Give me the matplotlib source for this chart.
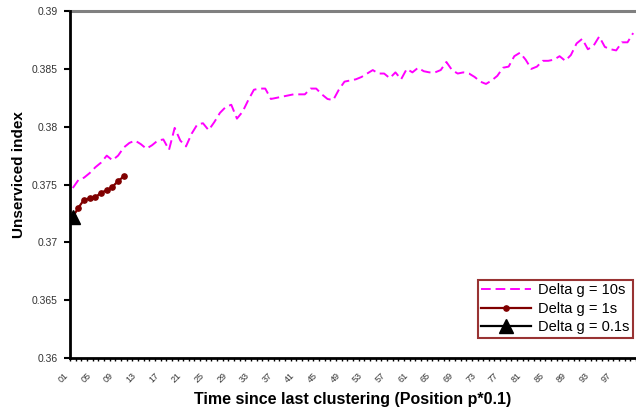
#!/usr/bin/python3
import matplotlib
matplotlib.use('Agg')
import matplotlib.pyplot as plt
from matplotlib.transforms import ScaledTranslation
import numpy as np

# unserviced index per position (p*0.1), one series per delta g
pos_10s = list(range(1, 101))
val_10s = [
    0.3747, 0.3754, 0.3756, 0.3760, 0.3765, 0.3769, 0.3775, 0.3771, 0.3775, 0.3782,
    0.3786, 0.3788, 0.3785, 0.3781, 0.3784, 0.3788, 0.3789, 0.3780, 0.3799, 0.3788,
    0.3783, 0.3794, 0.3802, 0.3803, 0.3797, 0.3804, 0.3812, 0.3817, 0.3819, 0.3807,
    0.3813, 0.3823, 0.3832, 0.3833, 0.3833, 0.3824, 0.3825, 0.3826, 0.3827, 0.3828,
    0.3828, 0.3828, 0.3833, 0.3833, 0.3828, 0.3824, 0.3823, 0.3832, 0.3839, 0.3840,
    0.3841, 0.3843, 0.3846, 0.3849, 0.3846, 0.3846, 0.3842, 0.3847, 0.3841, 0.3850,
    0.3847, 0.3851, 0.3848, 0.3847, 0.3847, 0.3849, 0.3856, 0.3849, 0.3846, 0.3847,
    0.3846, 0.3843, 0.3839, 0.3837, 0.3840, 0.3844, 0.3851, 0.3852, 0.3861, 0.3864,
    0.3858, 0.3850, 0.3852, 0.3857, 0.3857, 0.3858, 0.3861, 0.3857, 0.3862, 0.3872,
    0.3876, 0.3867, 0.3870, 0.3878, 0.3869, 0.3867, 0.3866, 0.3873, 0.3873, 0.3881,
]
pos_1s = list(range(1, 11))
val_1s = [0.3722, 0.3730, 0.3737, 0.3738, 0.3739, 0.3743, 0.3745, 0.3748, 0.3753, 0.3757]
pos_01s = [1]
val_01s = [0.3722]

xtick_pos = list(range(1, 101, 4))
xtick_labels = ['%02d' % p for p in xtick_pos]
yticks = [0.36, 0.365, 0.37, 0.375, 0.38, 0.385, 0.39]
ytick_labels = ['0.36', '0.365', '0.37', '0.375', '0.38', '0.385', '0.39']

plt.rcParams['font.family'] = ['Liberation Sans', 'DejaVu Sans']

fig = plt.figure(figsize=(6.36, 4.11), dpi=100)
ax = fig.add_axes([0.110, 0.129, 0.890, 0.844])

ax.plot(pos_10s, val_10s, color='#ff00ff', lw=1.4, dashes=(5, 2.5),
        label='Delta g = 10s', zorder=3)
ax.plot(pos_1s, val_1s, color='#800000', lw=1.6, marker='o', ms=3.8,
        label='Delta g = 1s', zorder=4)
ax.plot(pos_01s, val_01s, color='black', lw=1.6, marker='^', ms=10,
        label='Delta g = 0.1s', zorder=5)

ax.set_xlim(0.5, 100.5)
ax.set_ylim(0.36, 0.39)

# only the top gridline shows, in grey
ax.axhline(0.39, color='#808080', lw=2.2, zorder=2, clip_on=False)

for side in ['top', 'right']:
    ax.spines[side].set_visible(False)
for side in ['left', 'bottom']:
    ax.spines[side].set_linewidth(2)
    ax.spines[side].set_color('black')

ax.set_yticks(yticks)
ax.set_yticklabels(ytick_labels, fontsize=7.5, color='#333333')
ax.tick_params(axis='y', direction='out', length=4, width=1.5, pad=5)

ax.set_xticks(xtick_pos)
ax.set_xticklabels(xtick_labels, fontsize=6.5, rotation=45, ha='right',
                   rotation_mode='anchor', color='#333333')
ax.tick_params(axis='x', which='major', length=0, pad=9)
ax.set_xticks(np.arange(0.5, 101, 1), minor=True)
ax.tick_params(axis='x', which='minor', direction='out', length=2.5, width=1)
# category labels sit a little left of their tick
shift = ScaledTranslation(-0.09, 0, fig.dpi_scale_trans)
for lab in ax.get_xticklabels():
    lab.set_transform(lab.get_transform() + shift)

ax.set_ylabel('Unserviced index', fontsize=11, fontweight='bold')
ax.yaxis.set_label_coords(-0.078, 0.53)
ax.set_xlabel('Time since last clustering (Position p*0.1)', fontsize=11.5,
              fontweight='bold', labelpad=6)

leg = ax.legend(loc='lower right', bbox_to_anchor=(0.995, 0.058), fontsize=10.5,
                frameon=True, fancybox=False, borderpad=0.25, labelspacing=0.3,
                handlelength=3.4, handletextpad=0.5, borderaxespad=0)
leg.get_frame().set_edgecolor('#800000')
leg.get_frame().set_linewidth(1.5)

fig.savefig('out.png', dpi=100)
